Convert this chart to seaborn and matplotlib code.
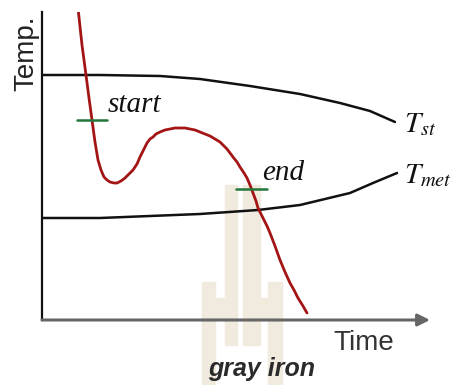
import numpy as np
import pandas as pd
import matplotlib
matplotlib.use("Agg")
import matplotlib.pyplot as plt
from matplotlib.patches import Rectangle
import seaborn as sns

# ---- data (time, temperature in arbitrary units) ----
cool_t = [36, 40, 44, 47, 50, 53, 56, 59, 62, 65, 68, 72, 75, 79, 83, 87, 91, 95, 98, 102,
          105, 108, 111, 114, 118, 123, 128, 133, 138, 143, 148, 153, 158, 163, 168, 173,
          178, 182, 185, 188, 191, 195, 198, 202, 205, 208, 211, 214, 216, 219, 222, 225,
          228, 233, 238, 243, 248, 252, 256, 261, 265]
cool_T = [312, 275, 245, 222, 200, 178, 160, 150, 143, 140, 138, 137, 137, 139, 142, 146,
          150, 156, 163, 171, 177, 181, 183, 186, 188, 190, 191, 192, 192, 192, 191, 190,
          188, 186, 184, 181, 178, 174, 171, 167, 163, 158, 153, 147, 142, 135, 127, 119,
          112, 106, 100, 94, 87, 74, 60, 48, 37, 30, 22, 14, 7]

tst_t = [0, 58, 118, 158, 208, 258, 298, 328, 353]
tst_T = [245, 245, 244, 241, 234, 226, 217, 209, 198]

tmet_t = [0, 58, 108, 158, 216, 258, 308, 331, 355]
tmet_T = [102, 102, 104, 106, 110, 115, 127, 137, 147]

start_t = [35, 65]
start_T = [200, 200]
end_t = [194, 225]
end_T = [131, 131]

sns.set_style("white")
plt.rcParams["font.family"] = ["Liberation Sans", "DejaVu Sans"]
plt.rcParams["mathtext.fontset"] = "stix"

W, H = 456, 385
fig = plt.figure(figsize=(W / 100, H / 100), dpi=100)
fig.patch.set_facecolor("white")

# watermark (decorative)
beige = "#f0eadf"
def wm(x0, x1, y0, y1):
    fig.patches.append(Rectangle((x0 / W, (H - y1) / H), (x1 - x0) / W, (y1 - y0) / H,
                                 transform=fig.transFigure, color=beige, zorder=0))
wm(225, 237, 185, 345)
wm(243, 260, 185, 345)
wm(202, 215, 282, 385)
wm(268, 282, 282, 385)
wm(215, 225, 298, 318)
wm(260, 268, 298, 318)

ax = fig.add_axes([42 / W, 65 / H, (430 - 42) / W, (320 - 12) / H])
ax.set_zorder(5)
ax.set_facecolor("none")
ax.set_xlim(0, 388)
ax.set_ylim(0, 308)
for s in ["top", "right", "bottom"]:
    ax.spines[s].set_visible(False)
ax.spines["left"].set_color("#111111")
ax.spines["left"].set_linewidth(1.6)
ax.set_xticks([])
ax.set_yticks([])

ax.annotate("", xy=(388, 0), xytext=(0, 0), xycoords="data",
            arrowprops=dict(arrowstyle="-|>", color="#666666", lw=2.2, mutation_scale=18,
                            shrinkA=0, shrinkB=0), annotation_clip=False)

sns.lineplot(x=tst_t, y=tst_T, ax=ax, color="#111111", lw=1.8, sort=False, estimator=None)
sns.lineplot(x=tmet_t, y=tmet_T, ax=ax, color="#111111", lw=1.8, sort=False, estimator=None)
sns.lineplot(x=cool_t, y=cool_T, ax=ax, color="#a31515", lw=2.0, sort=False, estimator=None)
sns.lineplot(x=start_t, y=start_T, ax=ax, color="#22773a", lw=1.8, sort=False, estimator=None)
sns.lineplot(x=end_t, y=end_T, ax=ax, color="#22773a", lw=1.8, sort=False, estimator=None)

serif = dict(family=["Liberation Serif", "DejaVu Serif"], style="italic", fontsize=21, color="#111111")
ax.text(66, 208, "start", ha="left", va="baseline", **serif)
ax.text(220, 140, "end", ha="left", va="baseline", **serif)
ax.text(362, 188, r"$T_{st}$", ha="left", va="baseline", fontsize=21, color="#111111")
ax.text(362, 137, r"$T_{met}$", ha="left", va="baseline", fontsize=21, color="#111111")

ax.text(-16, 267, "Temp.", rotation=90, ha="center", va="center", fontsize=20, color="#222222",
        clip_on=False)
ax.text(291, -30, "Time", ha="left", va="baseline", fontsize=20, color="#333333", clip_on=False)
ax.text(166, -56, "gray iron", ha="left", va="baseline", fontsize=18, fontweight="bold",
        style="italic", color="#2a2a2a", clip_on=False)

fig.savefig("out.png", dpi=100)
